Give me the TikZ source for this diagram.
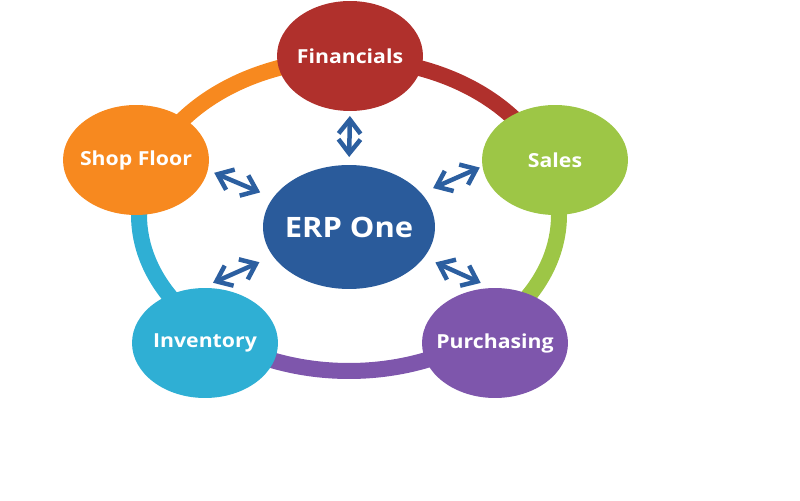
\documentclass[tikz,border=0pt]{standalone}
\usepackage{fontspec}
\setmainfont{Open Sans}
\usepackage{graphicx}
\usepackage{xcolor}
\usepackage{tikz}
\usetikzlibrary{shapes.geometric,arrows.meta}

\definecolor{fincol}{HTML}{B0302C}
\definecolor{salescol}{HTML}{9DC646}
\definecolor{purchcol}{HTML}{7E56AC}
\definecolor{invcol}{HTML}{2FAFD4}
\definecolor{shopcol}{HTML}{F7891F}
\definecolor{erpcol}{HTML}{2A5B9B}
\definecolor{arrowblue}{HTML}{2C5FA0}

\newcommand{\stretchtext}[1]{\scalebox{1.1}[1]{#1}}

\tikzset{
  bubble/.style={ellipse, fill=#1, minimum width=2.92cm, minimum height=2.2cm, inner sep=0pt, outer sep=0pt},
  ring/.style={line width=0.32cm, draw=#1},
  link/.style={<->, >={Straight Barb[length=2.8mm,width=4.4mm]}, line width=0.9mm, draw=arrowblue},
  tag/.style={text=white, font=\bfseries\fontsize{11}{13}\selectfont}
}

\begin{document}
\begin{tikzpicture}[x=0.02cm,y=0.02cm]
        \useasboundingbox (0,0) rectangle (800,500);
        % ring behind the nodes
        \coordinate (hub) at (349,285);
        \draw[ring=fincol] ([shift={(90:210 and 156)}]hub) arc[start angle=90, end angle=20, x radius=210, y radius=156];
        \draw[ring=salescol] ([shift={(20:210 and 156)}]hub) arc[start angle=20, end angle=-50, x radius=210, y radius=156];
        \draw[ring=purchcol] ([shift={(-50:210 and 156)}]hub) arc[start angle=-50, end angle=-130, x radius=210, y radius=156];
        \draw[ring=invcol] ([shift={(-130:210 and 156)}]hub) arc[start angle=-130, end angle=-200, x radius=210, y radius=156];
        \draw[ring=shopcol] ([shift={(160:210 and 156)}]hub) arc[start angle=160, end angle=90, x radius=210, y radius=156];

        \node[bubble=fincol, label={[tag]center:\stretchtext{Financials}}] (fin) at (350,444) {};
        \node[bubble=salescol, label={[tag]center:\stretchtext{Sales}}] (sales) at (555,340) {};
        \node[bubble=purchcol, label={[tag]center:\stretchtext{Purchasing}}] (purch) at (495,157) {};
        \node[bubble=invcol, label={[tag]center:\stretchtext{Inventory}}] (inv) at (205,157) {};
        \node[bubble=shopcol, label={[tag]center:\stretchtext{Shop Floor}}] (shop) at (136,340) {};
        \node[bubble=erpcol, minimum width=3.44cm, minimum height=2.48cm,
              label={[tag, font=\bfseries\fontsize{16}{19}\selectfont]center:\stretchtext{ERP One}}] (erp) at (349,273) {};

        % links to the hub
        \draw[link, shorten <=0.16cm, shorten >=0.1cm] (erp.north) -- (fin.south);
        \draw[link, shorten <=0.26cm, shorten >=0.06cm] (erp.25.2) -- (sales.185.4);
        \draw[link, shorten <=0.25cm, shorten >=0.25cm] (erp.-22.5) -- (purch.93.8);
        \draw[link, shorten <=0.3cm, shorten >=0.26cm] (erp.201.8) -- (inv.94.2);
        \draw[link, shorten <=0.28cm, shorten >=0.14cm] (erp.159.5) -- (shop.-8.3);
    \end{tikzpicture}
\end{document}
